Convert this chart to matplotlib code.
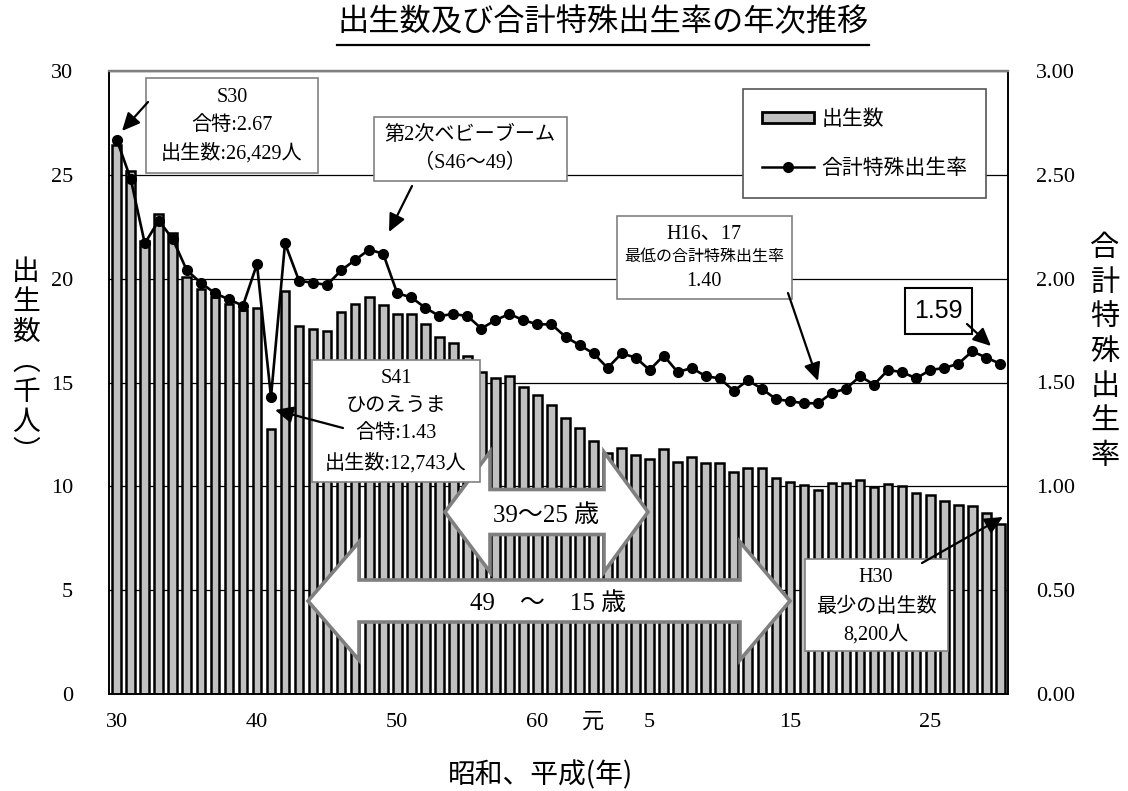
import matplotlib.pyplot as plt
from matplotlib.lines import Line2D
from matplotlib.patches import FancyArrowPatch, Patch, Polygon, Rectangle

W, H = 1128, 791
SERIF = ["Liberation Serif", "Noto Sans CJK JP"]
GOTHIC = ["Noto Sans CJK JP", "DejaVu Sans"]
plt.rcParams["font.family"] = GOTHIC

# S30 (1955) .. H30 (2018)
years = list(range(1955, 2019))
births = [
    26.429, 25.2, 21.8, 23.1, 22.2, 20.1, 19.5, 19.1, 18.8, 18.5,
    18.6, 12.743, 19.4, 17.7, 17.6, 17.5, 18.4, 18.8, 19.1, 18.75,
    18.3, 18.3, 17.8, 17.2, 16.9, 16.3, 15.5, 15.2, 15.3, 14.8,
    14.4, 13.9, 13.3, 12.8, 12.2, 11.6, 11.85, 11.5, 11.3, 11.8,
    11.15, 11.4, 11.1, 11.1, 10.7, 10.9, 10.9, 10.4, 10.2, 10.05,
    9.8, 10.15, 10.15, 10.3, 9.95, 10.1, 10.0, 9.7, 9.6, 9.3,
    9.1, 9.05, 8.7, 8.2,
]
tfr = [
    2.67, 2.48, 2.17, 2.28, 2.19, 2.04, 1.98, 1.93, 1.90, 1.87,
    2.07, 1.43, 2.17, 1.99, 1.98, 1.97, 2.04, 2.09, 2.14, 2.12,
    1.93, 1.91, 1.86, 1.82, 1.83, 1.82, 1.76, 1.80, 1.83, 1.80,
    1.78, 1.78, 1.72, 1.68, 1.64, 1.57, 1.64, 1.62, 1.56, 1.63,
    1.55, 1.57, 1.53, 1.52, 1.46, 1.51, 1.47, 1.42, 1.41, 1.40,
    1.40, 1.45, 1.47, 1.53, 1.49, 1.56, 1.55, 1.52, 1.56, 1.57,
    1.59, 1.65, 1.62, 1.59,
]
tick_years = [1955, 1965, 1975, 1985, 1989, 1993, 2003, 2013]
tick_labels = ["30", "40", "50", "60", "元", "5", "15", "25"]
left_ticks = [0, 5, 10, 15, 20, 25, 30]
right_ticks = [0.0, 0.5, 1.0, 1.5, 2.0, 2.5, 3.0]


def fx(x):
    return x / W


def fy(y):
    return 1 - y / H


fig = plt.figure(figsize=(W / 100, H / 100), dpi=100)
ax = fig.add_axes([fx(109), fy(694), (1008 - 109) / W, (694 - 71) / H])

ax.bar(years, births, width=0.62, color="#C0C0C0", edgecolor="black",
       linewidth=1.8, zorder=2)
ax.set_xlim(years[0] - 0.55, years[-1] + 0.55)
ax.set_ylim(0, 30)
ax.set_yticks(left_ticks)
ax.set_yticklabels([str(v) for v in left_ticks])
ax.set_axisbelow(True)
ax.yaxis.grid(True, color="black", linewidth=0.9)
ax.set_xticks(tick_years)
ax.set_xticklabels(tick_labels)
ax.tick_params(axis="both", length=0, labelsize=16)
ax.tick_params(axis="x", pad=14)
ax.tick_params(axis="y", pad=26)
for t in ax.get_xticklabels() + ax.get_yticklabels():
    t.set_fontfamily(SERIF)

ax2 = ax.twinx()
ax2.plot(years, tfr, color="black", linewidth=1.9, marker="o",
         markersize=7, zorder=3)
ax2.set_ylim(0, 3)
ax2.set_yticks(right_ticks)
ax2.set_yticklabels([f"{v:.2f}" for v in right_ticks])
ax2.tick_params(axis="y", length=0, labelsize=16, pad=20)
for t in ax2.get_yticklabels():
    t.set_fontfamily(SERIF)

for a in (ax, ax2):
    for s in a.spines.values():
        s.set_color("black")
        s.set_linewidth(1.2)
    a.spines["top"].set_color("#808080")
    a.spines["top"].set_linewidth(1.6)

handles = [
    Patch(facecolor="#C0C0C0", edgecolor="black", linewidth=2, label="出生数"),
    Line2D([], [], color="black", linewidth=1.8, marker="o", markersize=7,
           label="合計特殊出生率"),
]
leg = ax2.legend(handles=handles, loc="upper left",
                 bbox_to_anchor=(fx(743), fy(89)), bbox_transform=fig.transFigure,
                 borderaxespad=0, fancybox=False, framealpha=1,
                 edgecolor="#555555", fontsize=15, handlelength=2.5,
                 handleheight=0.45, handletextpad=0.35, labelspacing=1.3,
                 borderpad=0.9)
leg.get_frame().set_linewidth(1.2)


def box(x0, y0, x1, y1, ec="#808080", lw=1.2):
    fig.add_artist(Rectangle((fx(x0), fy(y1)), (x1 - x0) / W, (y1 - y0) / H,
                             transform=fig.transFigure, facecolor="white",
                             edgecolor=ec, linewidth=lw, zorder=2))


def label(x, y, s, size=14.5, family=SERIF):
    fig.text(fx(x), fy(y), s, ha="center", va="center", fontsize=size,
             family=family, zorder=3)


def arrow(x0, y0, x1, y1):
    fig.add_artist(FancyArrowPatch((fx(x0), fy(y0)), (fx(x1), fy(y1)),
                                   transform=fig.transFigure,
                                   arrowstyle="-|>,head_length=0.6,head_width=0.28",
                                   mutation_scale=18, linewidth=1.6,
                                   color="black", shrinkA=0, shrinkB=0, zorder=3))


def double_arrow(x0, x1, xb0, xb1, yc, body, head):
    pts = [(x0, yc), (xb0, yc - head), (xb0, yc - body), (xb1, yc - body),
           (xb1, yc - head), (x1, yc), (xb1, yc + head), (xb1, yc + body),
           (xb0, yc + body), (xb0, yc + head)]
    fig.add_artist(Polygon([(fx(x), fy(y)) for x, y in pts], closed=True,
                           transform=fig.transFigure, facecolor="white",
                           edgecolor="#7F7F7F", linewidth=2.6,
                           joinstyle="miter", zorder=2))


# age-range arrows
double_arrow(445, 648, 490, 604, 512, 22.5, 60)
label(546, 516, "39〜25 歳", size=18)
double_arrow(308, 790, 359, 740, 601, 21, 59)
label(548, 604, "49\u3000〜\u300015 歳", size=18)

# callouts
box(146, 78, 318, 173)
label(232, 98, "S30")
label(232, 125, "合特:2.67")
label(232, 153, "出生数:26,429人")
arrow(148, 102, 122, 131)

box(374, 117, 567, 181)
label(470, 135, "第2次ベビーブーム")
label(470, 163, "（S46〜49）")
arrow(412, 186, 389, 232)

box(617, 216, 792, 299)
label(704, 234, "H16、17")
label(704, 257, "最低の合計特殊出生率", size=11.5)
label(704, 281, "1.40")
arrow(788, 293, 818, 381)

box(905, 288, 972, 334, ec="black", lw=1.5)
label(938, 311, "1.59", size=18, family=["Liberation Sans"])
arrow(967, 324, 991, 346)

box(312, 360, 480, 482)
label(396, 378, "S41")
label(396, 406, "ひのえうま")
label(396, 433, "合特:1.43")
label(396, 463, "出生数:12,743人")
arrow(343, 428, 275, 410)

box(805, 559, 948, 651)
label(876, 578, "H30")
label(876, 607, "最少の出生数")
label(876, 635, "8,200人")
arrow(922, 563, 1003, 517)

# axis titles
fig.text(fx(26), fy(362), "出\n生\n数\n︵\n千\n人\n︶", ha="center",
         va="center", fontsize=20, linespacing=1.0)
fig.text(fx(1105), fy(352), "合\n計\n特\n殊\n出\n生\n率", ha="center",
         va="center", fontsize=21, linespacing=1.2)
fig.text(fx(540), fy(775), "昭和、平成(年)", ha="center", va="center",
         fontsize=20)

title = fig.text(fx(603), fy(22), "出生数及び合計特殊出生率の年次推移",
                 ha="center", va="center", fontsize=22.5)
fig.canvas.draw()
bb = title.get_window_extent()
fig.add_artist(Line2D([bb.x0 / W, bb.x1 / W], [fy(45), fy(45)],
                      transform=fig.transFigure, color="black", linewidth=1.6))

fig.savefig("out.png", dpi=100)
